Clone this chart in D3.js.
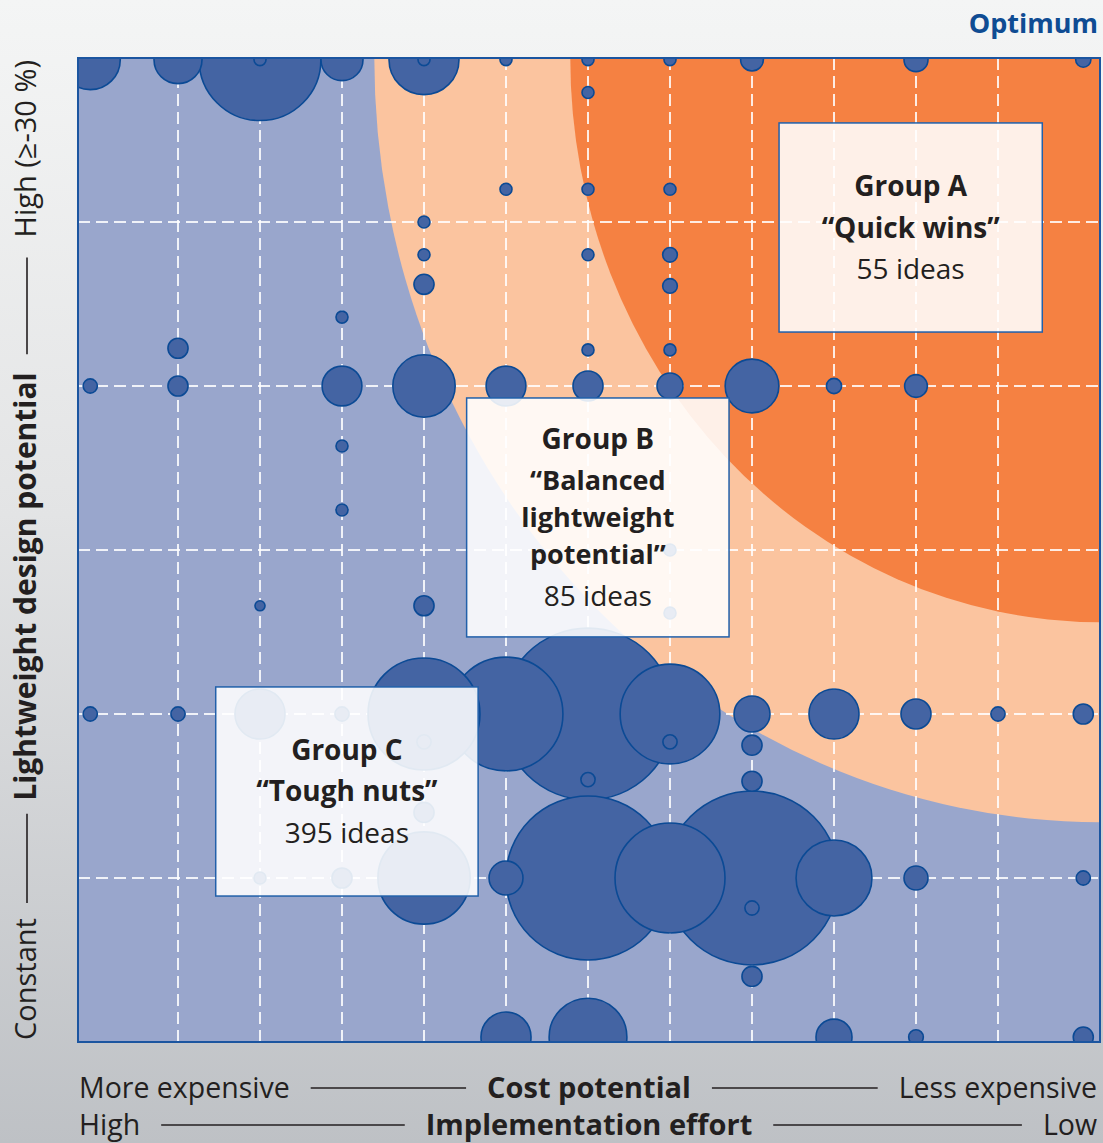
<!DOCTYPE html>
<html><head><meta charset="utf-8">
<script src="https://cdn.jsdelivr.net/npm/d3@7"></script>
<style>body{margin:0;background:#fff}svg{display:block}</style>
</head><body>
<svg id="chart" width="1103" height="1143"></svg>
<script>
// ---------- DATA ----------
// bubbles: [cost-potential column, lightweight level, size (ideas units)]
const bubbles = [
  // top row
  [-0.07,5.99,25],[1,5.99,16],[2,5.99,103],[2,5.99,1],[3,5.99,12.25],[4,5.99,34],[4,5.99,1],
  [5,5.99,1],[6,5.99,1],[7,5.99,1],[8,5.99,3.6],[10,5.99,4],[12.04,5.99,1.6],
  // between top row and level 4
  [6,5.79,1],[5,5.2,1],[6,5.2,1],[7,5.2,1],[4,5.0,1],[4,4.8,1],[6,4.8,1],[7,4.8,1.5],
  [4,4.62,2.8],[7,4.61,1.5],[3,4.42,1],[1,4.23,2.8],[6,4.22,1],[7,4.22,1],
  // level 4
  [-0.07,4,1.4],[1,4,2.8],[3,4,11],[4,4,27],[5,4,11],[6,4,6.25],[7,4,4.7],[8,4,20],[9,4,1.6],[10,4,3.6],
  // between level 4 and level 2
  [3,3.634,1],[3,3.244,1],[7,3.0,1],[2,2.66,0.7],[4,2.66,2.8],[7,2.616,1],
  // level 2
  [-0.07,2,1.4],[1,2,1.4],[2,2,17.4],[3,2,1.4],[4,2,87],[5,2,90],[6,2,205],[7,2,69],
  [7,1.83,1.4],[6,1.6,1.4],[4,1.83,1.4],[8,2,9],[8,1.81,2.8],[8,1.59,2.8],[9,2,17.4],
  [10,2,6.25],[11,2,1.4],[12.04,2,2.8],
  // level 1
  [2,1,1],[3,1,2.8],[4,1,59],[4,1.4,2.8],[5,1,8],[6,1,187],[7,1,84],[8,1,210],
  [8,0.817,1.4],[8,0.4,2.8],[9,1,40],[10,1,4],[12.04,1,1.4],
  // bottom row
  [5,0.03,17.4],[6,0.03,42],[9,0.03,9],[10,0.03,1.5],[12.04,0.03,2.8]
];
const gridCols = [1,2,3,4,5,6,7,8,9,10,11];
const gridRows = [1,2,3,4,5];
const groupNames = ["Group A","Group B","Group C"];
const groupLabels = [["“Quick wins”"],["“Balanced","lightweight","potential”"],["“Tough nuts”"]];
const groupCounts = [55,85,395];
const yAxisLabels = ["Constant","Lightweight design potential","High (≥-30 %)"];
const xAxisLabels1 = ["More expensive","Cost potential","Less expensive"];
const xAxisLabels2 = ["High","Implementation effort","Low"];
const cornerLabel = "Optimum";

// ---------- LAYOUT ----------
const W=1103,H=1143;
const plot={left:78,top:58,right:1100,bottom:1042};
const x=d3.scaleLinear().domain([1,11]).range([178,998]);
const y=d3.scaleLinear().domain([0,6]).range([plot.bottom,plot.top]);
const r=d3.scaleSqrt().domain([0,1]).range([0,6]);
const FONT="'Open Sans', 'Noto Sans', sans-serif";
const zones=[{rx:8.85,ry:4.66,color:"#FBC49F"},{rx:6.46,ry:3.44,color:"#F58142"}];
const boxes=[[8.33,11.54,5.604,4.329],[4.52,7.72,3.927,2.470],[1.46,4.66,2.165,0.890]];
const lineOffsets=[[-31,11,52],[-68,-27,10,47,88.5],[-31,10,52]];
const lineSizes=[[28,28,28],[28,27,27,27,28],[28,28,28]];

const svg=d3.select("#chart");
const defs=svg.append("defs");
const g1=defs.append("linearGradient").attr("id","bg").attr("x1",0).attr("y1",0).attr("x2",0).attr("y2",1);
g1.append("stop").attr("offset","0%").attr("stop-color","#F4F5F5");
g1.append("stop").attr("offset","45%").attr("stop-color","#E3E4E5");
g1.append("stop").attr("offset","100%").attr("stop-color","#BEC1C5");
defs.append("clipPath").attr("id","clip").append("rect")
  .attr("x",plot.left).attr("y",plot.top).attr("width",plot.right-plot.left).attr("height",plot.bottom-plot.top);

svg.append("rect").attr("width",W).attr("height",H).attr("fill","url(#bg)");

const pg=svg.append("g").attr("clip-path","url(#clip)");
pg.append("rect").attr("x",plot.left).attr("y",plot.top).attr("width",plot.right-plot.left).attr("height",plot.bottom-plot.top).attr("fill","#99A6CC");
const pxPerX=x(1)-x(0), pxPerY=y(0)-y(1);
pg.selectAll("ellipse.zone").data(zones).join("ellipse").attr("class","zone")
  .attr("cx",plot.right).attr("cy",plot.top)
  .attr("rx",d=>d.rx*pxPerX).attr("ry",d=>d.ry*pxPerY).attr("fill",d=>d.color);

pg.selectAll("line.vg").data(gridCols).join("line").attr("class","vg")
  .attr("x1",d=>x(d)).attr("x2",d=>x(d)).attr("y1",plot.top).attr("y2",plot.bottom)
  .attr("stroke","#fff").attr("stroke-opacity",0.85).attr("stroke-width",2).attr("stroke-dasharray","12,6");
pg.selectAll("line.hg").data(gridRows).join("line").attr("class","hg")
  .attr("y1",d=>y(d)).attr("y2",d=>y(d)).attr("x1",plot.left).attr("x2",plot.right)
  .attr("stroke","#fff").attr("stroke-opacity",0.85).attr("stroke-width",2).attr("stroke-dasharray","12,6");

const sorted=bubbles.slice().sort((a,b)=>b[2]-a[2]);
pg.selectAll("circle.b").data(sorted).join("circle").attr("class","b")
  .attr("cx",d=>x(d[0])).attr("cy",d=>y(d[1])).attr("r",d=>r(d[2]))
  .attr("fill","#4464A3").attr("stroke","#0B4A95").attr("stroke-width",1.6);

svg.append("rect").attr("x",plot.left).attr("y",plot.top).attr("width",plot.right-plot.left).attr("height",plot.bottom-plot.top)
  .attr("fill","none").attr("stroke","#1B55A0").attr("stroke-width",2);

boxes.forEach((b,i)=>{
  const bx0=x(b[0]),bx1=x(b[1]),by0=y(b[2]),by1=y(b[3]);
  svg.append("rect").attr("x",bx0).attr("y",by0).attr("width",bx1-bx0).attr("height",by1-by0)
    .attr("fill","#fff").attr("fill-opacity",0.88).attr("stroke","#2160AA").attr("stroke-width",1.5);
  const lines=[{t:groupNames[i],b:true}].concat(groupLabels[i].map(t=>({t,b:true}))).concat([{t:groupCounts[i]+" ideas",b:false}]);
  const cx=(bx0+bx1)/2, cy=(by0+by1)/2;
  const txt=svg.append("text").attr("text-anchor","middle").attr("font-family",FONT).attr("fill","#231F20");
  lines.forEach((l,j)=>{
    txt.append("tspan").attr("x",cx).attr("y",cy+lineOffsets[i][j]).attr("font-size",lineSizes[i][j])
      .attr("font-weight",l.b?700:400).text(l.t);
  });
});

svg.append("text").attr("x",1098).attr("y",33).attr("text-anchor","end").attr("font-family",FONT)
  .attr("font-size",27).attr("font-weight",700).attr("fill","#0F4C93").text(cornerLabel);

function axisRow(labels,yb,centerX,lineY){
  const t0=svg.append("text").attr("x",79).attr("y",yb).attr("font-family",FONT).attr("font-size",28.5).attr("fill","#231F20").text(labels[0]);
  const t1=svg.append("text").attr("x",centerX).attr("y",yb).attr("text-anchor","middle").attr("font-family",FONT).attr("font-size",29).attr("font-weight",700).attr("fill","#231F20").text(labels[1]);
  const t2=svg.append("text").attr("x",1097).attr("y",yb).attr("text-anchor","end").attr("font-family",FONT).attr("font-size",28.5).attr("fill","#231F20").text(labels[2]);
  const b0=t0.node().getBBox(),b1=t1.node().getBBox(),b2=t2.node().getBBox();
  svg.append("line").attr("x1",b0.x+b0.width+21).attr("x2",b1.x-21).attr("y1",lineY).attr("y2",lineY).attr("stroke","#231F20").attr("stroke-width",1.6);
  svg.append("line").attr("x1",b1.x+b1.width+21).attr("x2",b2.x-21).attr("y1",lineY).attr("y2",lineY).attr("stroke","#231F20").attr("stroke-width",1.6);
}
axisRow(xAxisLabels1,1098,589,1088);
axisRow(xAxisLabels2,1135,589,1125);

const yg=svg.append("g").attr("transform","translate(36,0) rotate(-90)");
const ya=yg.append("text").attr("x",-1040).attr("y",0).attr("font-family",FONT).attr("font-size",29).attr("fill","#231F20").text(yAxisLabels[0]);
const yb=yg.append("text").attr("x",-586.5).attr("y",0).attr("text-anchor","middle").attr("font-family",FONT).attr("font-size",30).attr("font-weight",700).attr("fill","#231F20").text(yAxisLabels[1]);
const yc=yg.append("text").attr("x",-60).attr("y",0).attr("text-anchor","end").attr("font-family",FONT).attr("font-size",29).attr("fill","#231F20").text(yAxisLabels[2]);
const ba=ya.node().getBBox(),bb=yb.node().getBBox(),bc=yc.node().getBBox();
yg.append("line").attr("x1",ba.x+ba.width+15).attr("x2",bb.x-13).attr("y1",-9).attr("y2",-9).attr("stroke","#231F20").attr("stroke-width",1.6);
yg.append("line").attr("x1",bb.x+bb.width+18).attr("x2",bc.x-20).attr("y1",-9).attr("y2",-9).attr("stroke","#231F20").attr("stroke-width",1.6);
</script>
</body></html>
